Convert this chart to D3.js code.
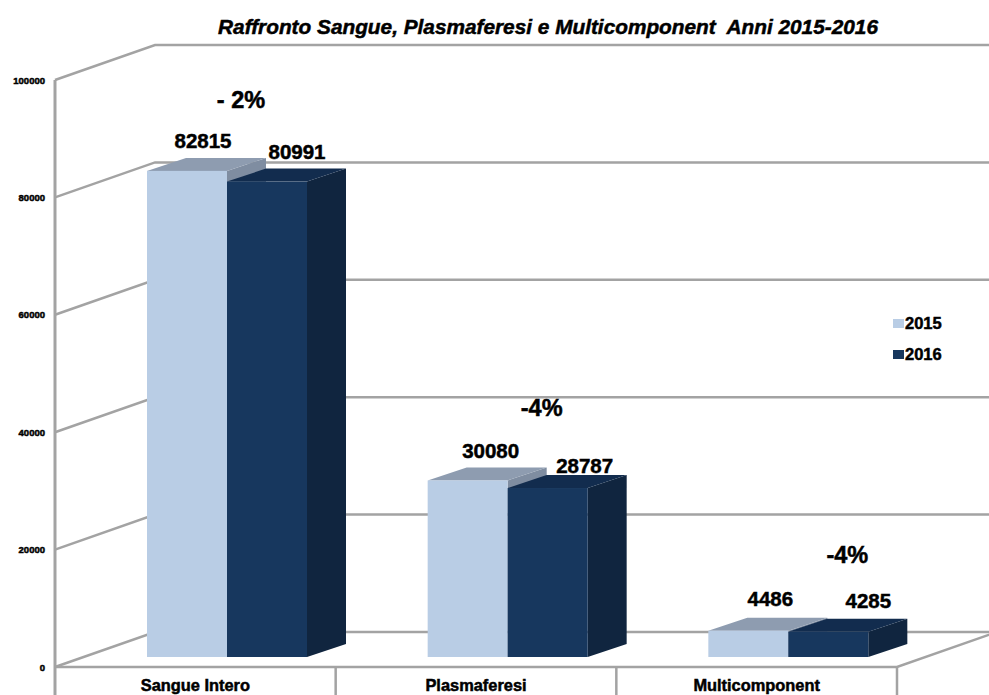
<!DOCTYPE html>
<html>
<head>
<meta charset="utf-8">
<script src="https://cdn.jsdelivr.net/npm/d3@7/dist/d3.min.js"></script>
<style>
    html, body { margin: 0; padding: 0; background: #fff; overflow: hidden; }
    text { font-family: "Liberation Sans", Arial, sans-serif; font-weight: bold; fill: #000; stroke: #000; stroke-width: 0.5px; }
</style>
</head>
<body>
<div id="chart"></div>
<script>
var categories = ["Sangue Intero", "Plasmaferesi", "Multicomponent"];
var years = ["2015", "2016"];
var values2015 = [82815, 30080, 4486];
var values2016 = [80991, 28787, 4285];
var changes = ["- 2%", "-4%", "-4%"];
var yTicks = [0, 20000, 40000, 60000, 80000, 100000];
var titleText = "Raffronto Sangue, Plasmaferesi e Multicomponent  Anni 2015-2016";

(function() {
    var width = 989, height = 695;
    var wall = {dx: 100, dy: -35};   // depth of the 3d floor and side wall
    var depth = {dx: 39, dy: -13};   // depth of one bar
    var floorGap = 10;               // bars stand a little behind the front edge

    var colors = {
        "2015": {front: "#b9cde5", top: "#8e9cb0", side: "#7f8da1"},
        "2016": {front: "#17375e", top: "#122c4e", side: "#10253f"}
    };
    var gridColor = "#a3a3a3";

    var svg = d3.select("#chart").append("svg")
        .attr("width", width)
        .attr("height", height);

    var x = d3.scaleBand().domain(categories).range([55, 897]);
    var xYear = d3.scaleBand().domain(years).range([92, 252]);
    var y = d3.scaleLinear().domain([0, 100000]).range([667, 80]);

    // back wall and side wall lines
    var grid = svg.append("g")
        .attr("fill", "none")
        .attr("stroke", gridColor)
        .attr("stroke-width", 2.5);

    yTicks.forEach(function(t) {
        grid.append("path")
            .attr("d", d3.line()([
                [55, y(t)],
                [55 + wall.dx, y(t) + wall.dy],
                [width, y(t) + wall.dy]
            ]));
    });

    // floor front edge and right diagonal
    grid.append("path")
        .attr("d", d3.line()([
            [55, y(0)],
            [897, y(0)],
            [897 + wall.dx, y(0) + wall.dy]
        ]));

    // vertical axis and category dividers
    grid.append("line")
        .attr("x1", 55).attr("x2", 55)
        .attr("y1", y(100000)).attr("y2", height)
        .attr("stroke-width", 3);
    categories.forEach(function(c) {
        grid.append("line")
            .attr("x1", x(c) + x.bandwidth()).attr("x2", x(c) + x.bandwidth())
            .attr("y1", y(0)).attr("y2", height);
    });

    // bars, one box per year
    function drawBar(g, category, year, value) {
        var left = x(category) + xYear(year),
            right = left + xYear.bandwidth(),
            bottom = y(0) - floorGap,
            top = y(value) - floorGap,
            c = colors[year];

        g.append("polygon")
            .attr("fill", c.side)
            .attr("points", [
                [right, top],
                [right + depth.dx, top + depth.dy],
                [right + depth.dx, bottom + depth.dy],
                [right, bottom]
            ].join(" "));
        g.append("polygon")
            .attr("fill", c.top)
            .attr("points", [
                [left, top],
                [left + depth.dx, top + depth.dy],
                [right + depth.dx, top + depth.dy],
                [right, top]
            ].join(" "));
        g.append("rect")
            .attr("x", left)
            .attr("y", top)
            .attr("width", right - left)
            .attr("height", bottom - top)
            .attr("fill", c.front);
    }

    var bars = svg.append("g");
    categories.forEach(function(c, i) {
        drawBar(bars, c, "2015", values2015[i]);
        drawBar(bars, c, "2016", values2016[i]);
    });

    // value labels, nudged by hand to sit clear of the boxes
    var labelNudge2015 = [[16, -23], [23, -22], [22, -25]];
    var labelNudge2016 = [[30, -23], [37, -15], [40, -24]];
    var labels = svg.append("g")
        .attr("text-anchor", "middle")
        .style("font-size", "20.5px");

    function addValueLabels(year, vals, nudge) {
        vals.forEach(function(v, i) {
            var cx = x(categories[i]) + xYear(year) + xYear.bandwidth() / 2;
            labels.append("text")
                .attr("x", cx + nudge[i][0])
                .attr("y", y(v) - floorGap + nudge[i][1])
                .text(v);
        });
    }
    addValueLabels("2015", values2015, labelNudge2015);
    addValueLabels("2016", values2016, labelNudge2016);

    // percent change above each group
    var changePos = [[186, 108], [206, 416], [231, 563]];
    svg.append("g")
        .attr("text-anchor", "middle")
        .style("font-size", "23.5px")
        .selectAll("text")
        .data(changes)
        .join("text")
        .attr("x", function(d, i) { return x(categories[i]) + changePos[i][0]; })
        .attr("y", function(d, i) { return changePos[i][1]; })
        .text(function(d) { return d; });

    // axes, only their labels are visible
    var yAxis = svg.append("g")
        .attr("transform", "translate(55,0)")
        .call(d3.axisLeft(y).tickValues(yTicks).tickSize(0).tickPadding(10).tickFormat(d3.format("d")));
    yAxis.select(".domain").remove();
    yAxis.selectAll("text").style("font-size", "9.5px").style("font-family", null);

    var xAxis = svg.append("g")
        .attr("transform", "translate(0,679)")
        .call(d3.axisBottom(x).tickSize(0).tickPadding(0));
    xAxis.select(".domain").remove();
    xAxis.selectAll("text").style("font-size", "16.4px").style("font-family", null);

    // title
    svg.append("text")
        .attr("x", 548)
        .attr("y", 34)
        .attr("text-anchor", "middle")
        .style("font-size", "20.8px")
        .style("font-style", "italic")
        .style("white-space", "pre")
        .text(titleText);

    // legend
    var legend = svg.append("g");
    years.forEach(function(yr, i) {
        var g = legend.append("g")
            .attr("transform", "translate(893," + (319 + i * 31) + ")");
        g.append("rect")
            .attr("width", 11)
            .attr("height", 9)
            .attr("fill", colors[yr].front);
        g.append("text")
            .attr("x", 12)
            .attr("y", 10)
            .style("font-size", "16.5px")
            .text(yr);
    });
})();
</script>
</body>
</html>
